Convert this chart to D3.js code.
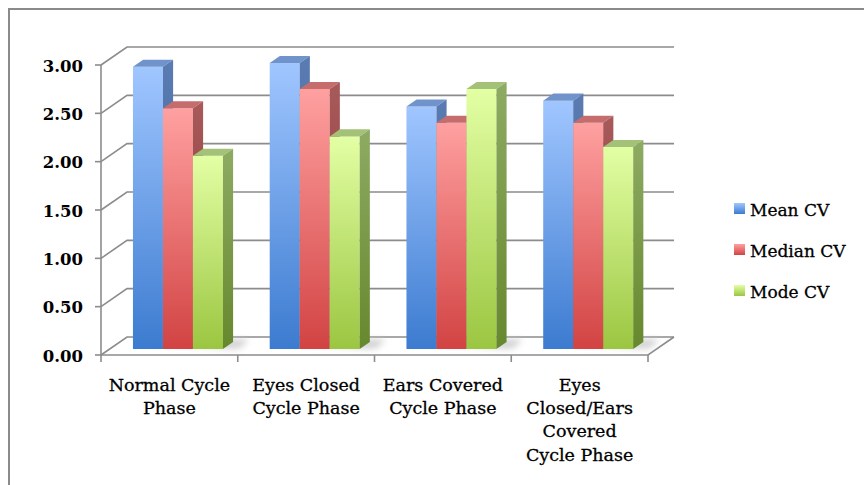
<!DOCTYPE html>
<html>
<head>
<meta charset="utf-8">
<script src="https://cdn.jsdelivr.net/npm/d3@7/dist/d3.min.js"></script>
<style>
  html, body { margin: 0; padding: 0; background: #fff; }
  svg { display: block; }
  text { font-family: "DejaVu Serif", "Liberation Serif", serif; fill: #000; }
</style>
</head>
<body>
<svg id="chart" width="864" height="485"></svg>
<script>
// Coefficient of variation per cycle phase
const categories = ["Normal Cycle Phase", "Eyes Closed Cycle Phase", "Ears Covered Cycle Phase", "Eyes Closed/Ears Covered Cycle Phase"];
const tickLabels = [["Normal Cycle", "Phase"], ["Eyes Closed", "Cycle Phase"], ["Ears Covered", "Cycle Phase"], ["Eyes", "Closed/Ears", "Covered", "Cycle Phase"]];
const seriesNames = ["Mean CV", "Median CV", "Mode CV"];
const meanCV   = [2.92, 2.96, 2.51, 2.57];
const medianCV = [2.49, 2.69, 2.34, 2.34];
const modeCV   = [2.00, 2.20, 2.69, 2.09];
const yTicks = [0, 0.5, 1, 1.5, 2, 2.5, 3];

const seriesValues = [meanCV, medianCV, modeCV];

// Face colours for each series: front gradient, top, side gradient
const palette = [
  { front: ["#a0c6ff", "#3c7bd0"], top: "#7093cb", side: ["#5b7cb2", "#2d5c9a"] },
  { front: ["#ffa0a0", "#d24343"], top: "#c56c6c", side: ["#a85a5a", "#8a2f2f"] },
  { front: ["#e3ffa4", "#9bc641"], top: "#a3c277", side: ["#8eab63", "#66882d"] }
];

const svg = d3.select("#chart");
const defs = svg.append("defs");

palette.forEach((p, i) => {
  const gf = defs.append("linearGradient").attr("id", "front" + i)
    .attr("x1", 0).attr("y1", 0).attr("x2", 0).attr("y2", 1);
  gf.append("stop").attr("offset", "0%").attr("stop-color", p.front[0]);
  gf.append("stop").attr("offset", "100%").attr("stop-color", p.front[1]);
  const gs = defs.append("linearGradient").attr("id", "side" + i)
    .attr("x1", 0).attr("y1", 0).attr("x2", 0).attr("y2", 1);
  gs.append("stop").attr("offset", "0%").attr("stop-color", p.side[0]);
  gs.append("stop").attr("offset", "100%").attr("stop-color", p.side[1]);
});

const shadowBlur = defs.append("filter").attr("id", "soft")
  .attr("x", "-50%").attr("y", "-50%").attr("width", "200%").attr("height", "200%");
shadowBlur.append("feGaussianBlur").attr("stdDeviation", 3);

// Outer frame
svg.append("rect")
  .attr("x", 9).attr("y", 9).attr("width", 900).attr("height", 520)
  .attr("fill", "none").attr("stroke", "#8a8a8a").attr("stroke-width", 2);

// Front plane scales and depth projection
const x = d3.scaleBand().domain(categories).range([101, 648]);
const y = d3.scaleLinear().domain([0, 3]).range([355, 65]);
const DX = 26, DY = -18;
const P = (px, py, f) => [px + DX * f, py + DY * f];

const grid = svg.append("g").attr("stroke", "#8c8c8c").attr("stroke-width", 1.6).attr("fill", "none");
const [x0, x1] = x.range();

// Back wall gridlines and left wall diagonals
yTicks.forEach(t => {
  const a = P(x0, y(t), 0), b = P(x0, y(t), 1), c = P(x1, y(t), 1);
  grid.append("path").attr("d", d3.line()([a, b, c]));
});

// Floor outline
grid.append("path").attr("d", d3.line()([P(x0, y(0), 0), P(x1, y(0), 0), P(x1, y(0), 1)]));

// Value axis line and ticks
grid.append("line").attr("x1", x0).attr("x2", x0).attr("y1", y(3)).attr("y2", y(0) + 7);
yTicks.forEach(t => {
  grid.append("line").attr("x1", x0 - 6).attr("x2", x0).attr("y1", y(t)).attr("y2", y(t));
});
// Category tick marks
x.domain().forEach((c, i) => {
  const px = x(c) + x.bandwidth();
  grid.append("line").attr("x1", px).attr("x2", px).attr("y1", y(0)).attr("y2", y(0) + 7);
});

// Value labels
svg.append("g").selectAll("text").data(yTicks).join("text")
  .attr("x", 83).attr("y", d => y(d) + 6.5)
  .attr("text-anchor", "end")
  .attr("font-size", 16.5).attr("font-weight", "bold")
  .text(d => d3.format(".2f")(d));

// Bars
const F0 = 0.33, F1 = 0.72;
const sub = d3.scaleBand().domain(seriesNames).range([-45, 45]);

// Soft floor shadows behind each group
const shadows = svg.append("g").attr("filter", "url(#soft)");
categories.forEach(c => {
  const cx = x(c) + x.bandwidth() / 2;
  const left = cx + sub.range()[0], right = cx + sub.range()[1];
  const pts = [P(left + 4, y(0), F1), P(right + 8, y(0), F0), P(right + 16, y(0), F0 + 0.05), P(right + 12, y(0), F1 + 0.15), P(left + 8, y(0), F1 + 0.15)];
  shadows.append("path").attr("d", d3.line()(pts) + "Z").attr("fill", "#c8c8c8").attr("opacity", 0.8);
});

const bars = svg.append("g");
categories.forEach((c, ci) => {
  const cx = x(c) + x.bandwidth() / 2;
  seriesNames.forEach((s, si) => {
    const v = seriesValues[si][ci];
    const bx0 = cx + sub(s), bx1 = bx0 + sub.bandwidth();
    const yt = y(v), yb = y(0);
    const g = bars.append("g");
    // front face
    g.append("path")
      .attr("d", d3.line()([P(bx0, yt, F0), P(bx1, yt, F0), P(bx1, yb, F0), P(bx0, yb, F0)]) + "Z")
      .attr("fill", `url(#front${si})`);
    // top face
    g.append("path")
      .attr("d", d3.line()([P(bx0, yt, F0), P(bx1, yt, F0), P(bx1, yt, F1), P(bx0, yt, F1)]) + "Z")
      .attr("fill", palette[si].top);
    // right side face
    g.append("path")
      .attr("d", d3.line()([P(bx1, yt, F0), P(bx1, yt, F1), P(bx1, yb, F1), P(bx1, yb, F0)]) + "Z")
      .attr("fill", `url(#side${si})`);
  });
});

// Category labels
const labels = svg.append("g").attr("text-anchor", "middle").attr("font-size", 17.5)
  .attr("stroke", "#000").attr("stroke-width", 0.3);
categories.forEach((c, i) => {
  const t = labels.append("text").attr("x", x(c) + x.bandwidth() / 2).attr("y", 390.5);
  tickLabels[i].forEach((line, li) => {
    t.append("tspan").attr("x", x(c) + x.bandwidth() / 2).attr("dy", li === 0 ? 0 : 23.4).text(line);
  });
});

// Legend
const legend = svg.append("g").attr("transform", "translate(734,203)");
seriesNames.forEach((s, i) => {
  const row = legend.append("g").attr("transform", `translate(0,${i * 41})`);
  row.append("rect").attr("width", 11).attr("height", 11).attr("fill", `url(#front${i})`);
  row.append("text").attr("x", 16).attr("y", 13).attr("font-size", 17)
    .attr("stroke", "#000").attr("stroke-width", 0.3).text(s);
});
</script>
</body>
</html>
